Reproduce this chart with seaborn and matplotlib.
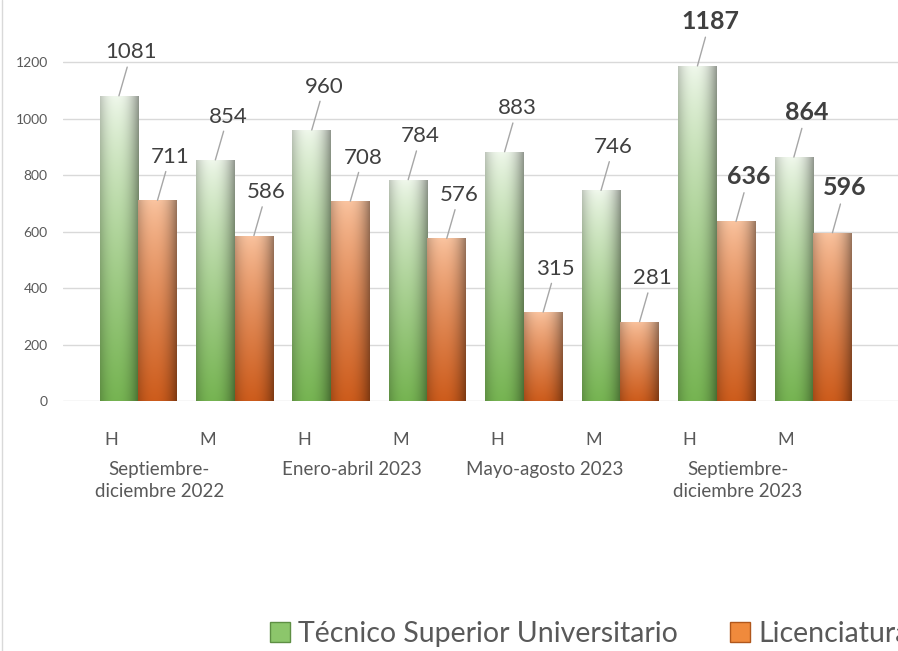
import numpy as np
import pandas as pd
import matplotlib
matplotlib.use("Agg")
import matplotlib.pyplot as plt
import matplotlib.transforms as mtransforms
from matplotlib.patches import Patch
import seaborn as sns

# data
periodos = ["Septiembre-\ndiciembre 2022", "Enero-abril 2023",
            "Mayo-agosto 2023", "Septiembre-\ndiciembre 2023"]
sexos = ["H", "M"]
series = ["Técnico Superior Universitario", "Licenciatura"]
tsu = [1081, 854, 960, 784, 883, 746, 1187, 864]
lic = [711, 586, 708, 576, 315, 281, 636, 596]
negritas = [False, False, False, False, False, False, True, True]

claves = [f"{p}|{s}" for p in periodos for s in sexos]
df = pd.DataFrame({
    "clave": claves * 2,
    "serie": [series[0]] * 8 + [series[1]] * 8,
    "valor": tsu + lic,
})

sns.set_theme(style="white")
plt.rcParams["font.family"] = ["Lato", "DejaVu Sans"]
gris = "#595959"

fig = plt.figure(figsize=(8.98, 6.51), dpi=100)
W, H = 898, 651
ax = fig.add_axes([63 / W, 1 - 401 / H, 1 - 63 / W, (401 - 34) / H])

pal = {series[0]: "#8cc66b", series[1]: "#f08a3c"}
sns.barplot(data=df, x="clave", y="valor", hue="serie", order=claves,
            hue_order=series, palette=pal, width=0.8, ax=ax, legend=False)

# cylinder-like gradient fill
grad_cols = {
    series[0]: (np.array([240, 248, 236]), np.array([118, 180, 82])),
    series[1]: (np.array([250, 196, 160]), np.array([205, 92, 28])),
}
xlim = (-0.78, 7.88)
ylim = (0, 1300)
n_per = len(claves)
for i, bar in enumerate(ax.patches[:2 * n_per]):
    s = series[0] if i < n_per else series[1]
    top, bot = grad_cols[s]
    x0, y0 = bar.get_x(), bar.get_y()
    w, h = bar.get_width(), bar.get_height()
    ny, nx = 100, 40
    t = np.linspace(0, 1, ny)[:, None]
    u = np.linspace(-1, 1, nx)[None, :]
    base = top[None, None, :] * (1 - t[..., None] ** 0.8) + bot[None, None, :] * (t[..., None] ** 0.8)
    shade = 1 - 0.28 * np.abs(u + 0.15) ** 2.2
    img = np.clip(base * shade[..., None], 0, 255) / 255
    im = ax.imshow(img, extent=[x0, x0 + w, y0, y0 + h], origin="upper",
                   aspect="auto", zorder=2, interpolation="bilinear")
    im.set_clip_path(bar)
    bar.set_facecolor("none")
    bar.set_edgecolor("none")

ax.set_xlim(*xlim)
ax.set_ylim(*ylim)
ax.set_yticks(range(0, 1201, 200))
ax.tick_params(axis="y", labelsize=10, labelcolor=gris, length=0, pad=11)
ax.tick_params(axis="x", labelsize=13, labelcolor=gris, length=0, pad=22)
ax.set_xticks(range(n_per))
ax.set_xticklabels([s for p in periodos for s in sexos])
shift = mtransforms.ScaledTranslation(-27 / 100, 0, fig.dpi_scale_trans)
for lab in ax.get_xticklabels():
    lab.set_transform(lab.get_transform() + shift)
ax.set_xlabel("")
ax.set_ylabel("")
ax.grid(axis="y", color="#d9d9d9", linewidth=1)
ax.set_axisbelow(True)
sns.despine(ax=ax, left=True, bottom=True)

# value labels with leader lines
for i in range(n_per):
    peso = "bold" if negritas[i] else "normal"
    tam = 18 if negritas[i] else 16
    for j, vals in enumerate([tsu, lic]):
        xc = i - 0.2 + 0.4 * j
        ax.annotate(str(vals[i]), xy=(xc, vals[i]), xytext=(9, 24),
                    textcoords="offset points", ha="center", va="bottom",
                    fontsize=tam, color="#404040", fontweight=peso,
                    arrowprops=dict(arrowstyle="-", color="#a6a6a6", lw=1,
                                    shrinkA=1, shrinkB=0))

# period labels under each H/M pair
trans = mtransforms.blended_transform_factory(ax.transData, ax.transAxes)
for k, p in enumerate(periodos):
    ax.text(2 * k + 0.5, -0.163, p, transform=trans + shift, ha="center",
            va="top", fontsize=13.5, color=gris, linespacing=1.35)

# left chart border
fig.add_artist(plt.Line2D([2 / W, 2 / W], [0, 1], color="#d9d9d9", lw=1))

handles = [Patch(facecolor="#8cc66b", edgecolor="#5e8f44"),
           Patch(facecolor="#f08a3c", edgecolor="#b0571c")]
fig.legend(handles, series, loc="center left", bbox_to_anchor=(270 / W, 1 - 634 / H),
           ncol=2, frameon=False, fontsize=20.5, labelcolor=gris,
           handlelength=0.7, handleheight=0.7, handletextpad=0.3,
           columnspacing=1.8, borderpad=0, borderaxespad=0)

fig.savefig("out.png", dpi=100)
